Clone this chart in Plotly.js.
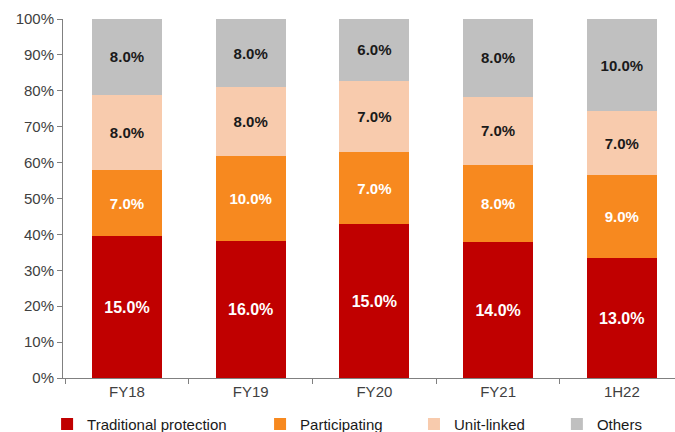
<!DOCTYPE html>
<html>
<head>
<meta charset="utf-8">
<script src="https://cdn.plot.ly/plotly-3.0.1.min.js"></script>
<style>html,body{margin:0;padding:0;background:#fff}#chart{width:675px;height:432px}</style>
</head>
<body>
<div id="chart"></div>
<script>
const categories = ["FY18", "FY19", "FY20", "FY21", "1H22"];
const traditional = [15, 16, 15, 14, 13];
const participating = [7, 10, 7, 8, 9];
const unitLinked = [8, 8, 7, 7, 7];
const others = [8, 8, 6, 8, 10];

const fontFam = '"Liberation Sans", Arial, sans-serif';
function fmt(arr){ return arr.map(v => v.toFixed(1) + '%'); }

function mk(name, vals, color, txtColor, size, leg){
  return {
    type: 'bar', name: name, x: categories, y: vals,
    marker: {color: color, line: {width: 0}},
    text: fmt(vals), textposition: 'inside', insidetextanchor: 'middle', textangle: 0,
    textfont: {family: fontFam, size: size, color: txtColor, weight: 'bold'},
    hoverinfo: 'skip', legend: leg, cliponaxis: false
  };
}

const data = [
  mk('Traditional protection', traditional, '#C00000', '#FFFFFF', 16, 'legend'),
  mk('Participating', participating, '#F7891F', '#FFFFFF', 15, 'legend2'),
  mk('Unit-linked', unitLinked, '#F8CBAD', '#1A1A1A', 15, 'legend3'),
  mk('Others', others, '#C0C0C0', '#1A1A1A', 15, 'legend4')
];

function leg(x){
  return {x: x, y: -0.083, xanchor: 'left', yanchor: 'top', orientation: 'h',
          font: {family: fontFam, size: 15, color: '#1A1A1A'}, bgcolor: 'rgba(0,0,0,0)',
          borderwidth: 0, itemclick: false};
}

const layout = {
  width: 675, height: 432,
  margin: {l: 63, r: 0, t: 19, b: 54, autoexpand: false},
  paper_bgcolor: '#FFFFFF', plot_bgcolor: '#FFFFFF',
  barmode: 'stack', barnorm: 'percent', bargap: 0.435,
  font: {family: fontFam, size: 15, color: '#404040'},
  showlegend: true,
  legend: leg(-0.026), legend2: leg(0.322), legend3: leg(0.5735), legend4: leg(0.807),
  xaxis: {type: 'category', range: [-0.517, 4.43], showline: true, linecolor: '#808080', linewidth: 1,
          ticks: 'outside', tickson: 'boundaries', ticklen: 5, tickcolor: '#808080',
          showgrid: false, zeroline: false, tickfont: {family: fontFam, size: 15, color: '#404040'}},
  yaxis: {range: [0, 100], dtick: 10, ticksuffix: '%', showline: true, linecolor: '#808080', linewidth: 1,
          ticks: 'outside', ticklen: 5, tickcolor: '#808080', showgrid: false, zeroline: false,
          tickfont: {family: fontFam, size: 15, color: '#404040'}}
};

Plotly.newPlot('chart', data, layout, {displayModeBar: false, staticPlot: true});
</script>
</body>
</html>
